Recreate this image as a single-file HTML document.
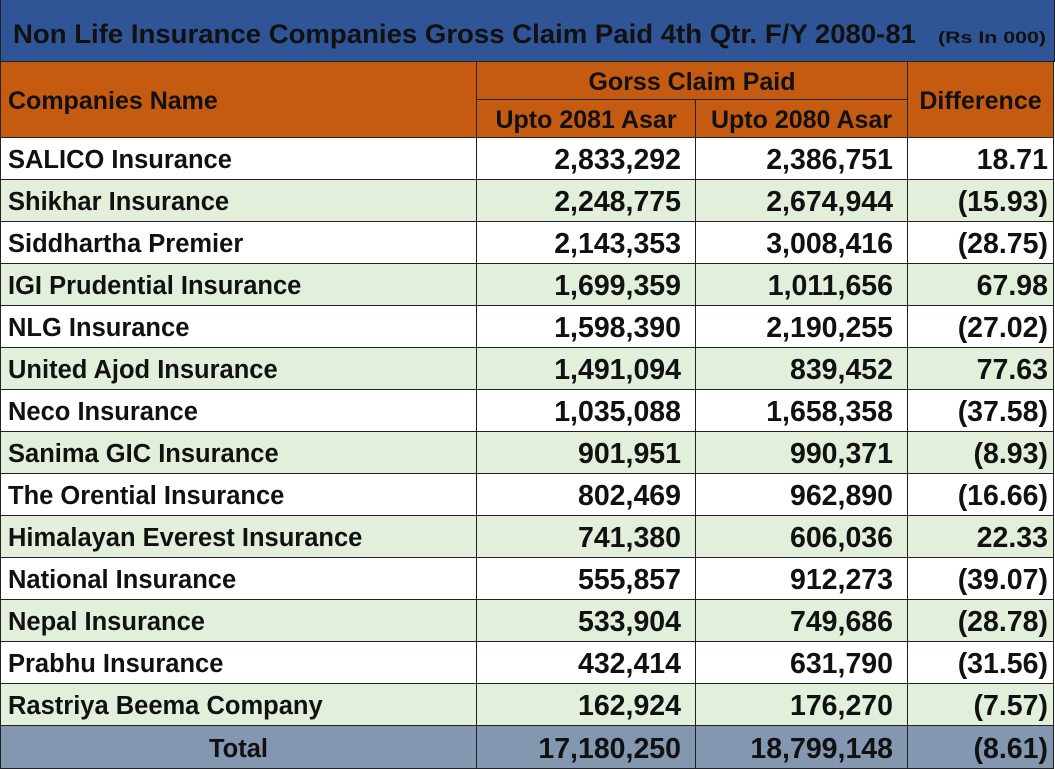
<!DOCTYPE html>
<html><head><meta charset="utf-8"><style>
body{margin:0;width:1055px;height:769px;overflow:hidden;background:#fff;font-family:"Liberation Sans",sans-serif;font-weight:bold;color:#111}
.c{position:absolute;box-sizing:border-box;border-right:1px solid #222;border-bottom:1px solid #222;display:flex;align-items:center;white-space:nowrap;overflow:hidden}
.n{font-size:25.5px;padding-left:7px;padding-top:4px}
.v{font-size:28.5px;justify-content:flex-end;padding-right:14px;padding-top:4px}
.d{font-size:28.5px;justify-content:flex-end;padding-right:5px;padding-top:4px}
.h{font-size:25px;justify-content:center;background:#C55A11;padding-top:3px}
</style></head><body>
<div id="t" style="position:absolute;left:0;top:0;width:1055px;height:769px;border-left:1px solid #222;border-top:1px solid #222;box-sizing:border-box"></div>
<div class="c" style="left:0;top:0;width:1055px;height:62px;background:#2F5597;border-left:1px solid #222">
<svg width="1050" height="60"><text x="12" y="42" font-size="27" font-weight="bold" fill="#111" textLength="903" lengthAdjust="spacingAndGlyphs" font-family="Liberation Sans">Non Life Insurance Companies Gross Claim Paid 4th Qtr. F/Y 2080-81</text><text x="937" y="42" font-size="17" font-weight="bold" fill="#111" textLength="108" lengthAdjust="spacingAndGlyphs" font-family="Liberation Sans">(Rs  In 000)</text></svg></div>
<div class="c h" style="left:0;top:62px;width:477px;height:76px;justify-content:flex-start;padding-left:7px;border-left:1px solid #222">Companies Name</div>
<div class="c h" style="left:477px;top:62px;width:431px;height:38px">Gorss Claim Paid</div>
<div class="c h" style="left:477px;top:100px;width:219px;height:38px">Upto 2081 Asar</div>
<div class="c h" style="left:696px;top:100px;width:212px;height:38px">Upto 2080 Asar</div>
<div class="c h" style="left:908px;top:62px;width:146px;height:76px">Difference</div>
<div id="rows"></div>
<script>
const names=["SALICO Insurance","Shikhar Insurance","Siddhartha Premier","IGI Prudential Insurance","NLG Insurance","United Ajod Insurance","Neco Insurance","Sanima GIC Insurance","The Orential Insurance","Himalayan Everest Insurance","National Insurance","Nepal Insurance","Prabhu Insurance","Rastriya Beema Company","Total"];
const v2081=["2,833,292","2,248,775","2,143,353","1,699,359","1,598,390","1,491,094","1,035,088","901,951","802,469","741,380","555,857","533,904","432,414","162,924","17,180,250"];
const v2080=["2,386,751","2,674,944","3,008,416","1,011,656","2,190,255","839,452","1,658,358","990,371","962,890","606,036","912,273","749,686","631,790","176,270","18,799,148"];
const diff=["18.71","(15.93)","(28.75)","67.98","(27.02)","77.63","(37.58)","(8.93)","(16.66)","22.33","(39.07)","(28.78)","(31.56)","(7.57)","(8.61)"];
const R=document.getElementById('rows');
names.forEach((nm,i)=>{
  const top=138+i*42, last=i===names.length-1;
  const bg=last?'#8497B0':(i%2?'#E2EFDA':'#fff');
  const cells=[[0,477,'n',nm,'company-name'],[477,219,'v',v2081[i],'value-2081'],[696,212,'v',v2080[i],'value-2080'],[908,146,'d',diff[i],'difference']];
  cells.forEach(c=>{
    const el=document.createElement('div');
    el.className='c '+c[2];
    el.style.cssText=`left:${c[0]}px;top:${top}px;width:${c[1]}px;height:${last?43:42}px;background:${bg}`;
    if(c[0]===0) el.style.borderLeft='1px solid #222';
    if(last&&c[0]===0){el.style.justifyContent='center';el.style.paddingLeft='0';el.style.paddingRight='0';}
    el.textContent=c[3];
    
    
    R.appendChild(el);
  });
});
</script>
</body></html>
